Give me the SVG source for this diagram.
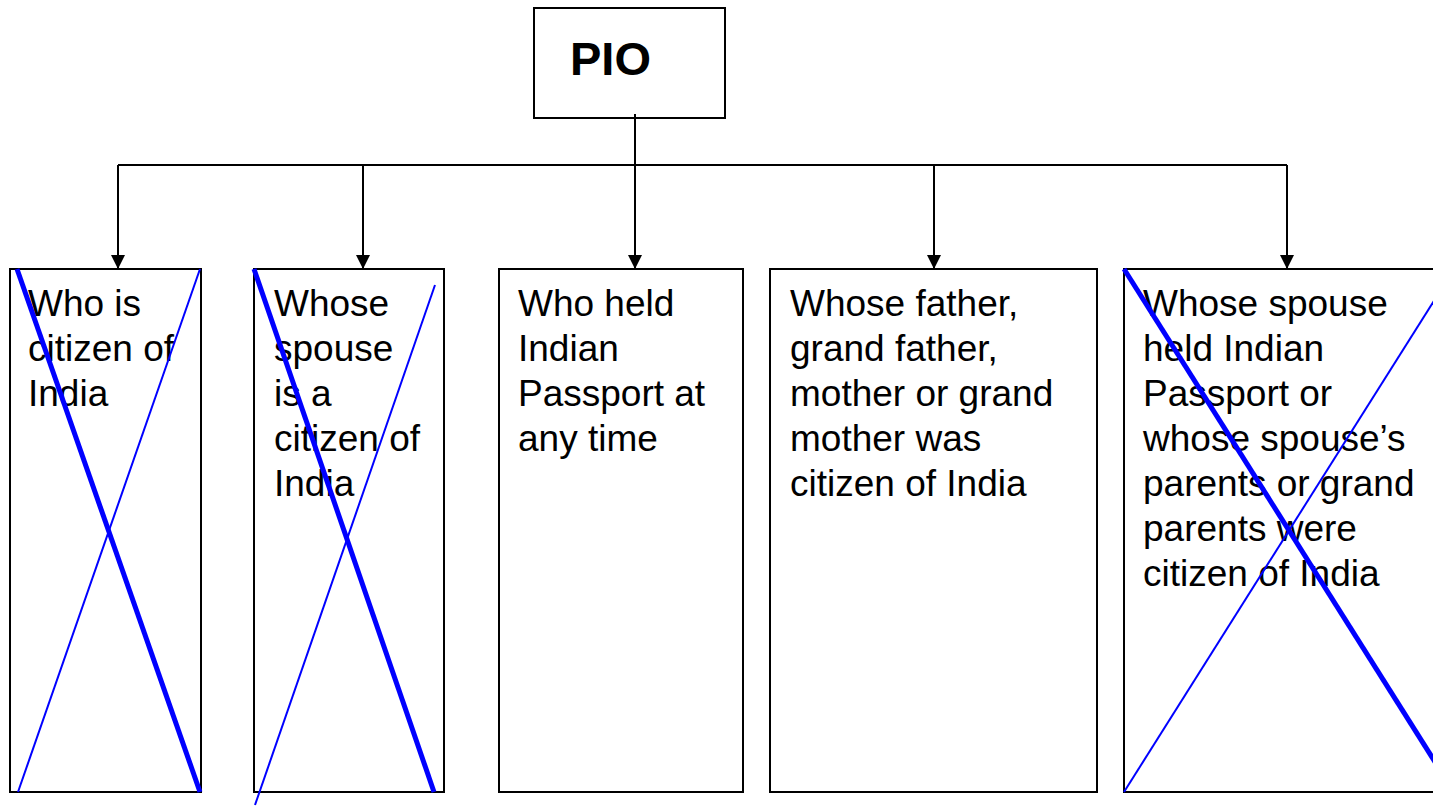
<svg xmlns="http://www.w3.org/2000/svg" width="1433" height="807" viewBox="0 0 1433 807">
<style>
.box{fill:#fff;stroke:#000;stroke-width:2}
.t{font-family:"Liberation Sans",Arial,sans-serif;font-size:37px;fill:#000}
.h{font-family:"Liberation Sans",Arial,sans-serif;font-size:47px;font-weight:bold;fill:#000}
.c{stroke:#000;stroke-width:2;fill:none}
.x1{stroke:#0000ff;stroke-width:5;fill:none}
.x2{stroke:#0000ff;stroke-width:2;fill:none}
</style>
<defs>
<marker id="ah" viewBox="0 0 10 10" refX="10" refY="5" markerWidth="7" markerHeight="7" orient="auto" markerUnits="strokeWidth">
<path d="M0,0 L10,5 L0,10 z" fill="#000"/>
</marker>
</defs>
<rect width="1433" height="807" fill="#fff"/>
<g id="pio">
<rect class="box" x="534" y="8" width="191" height="110"/>
<text class="h" x="570" y="75">PIO</text>
</g>
<g id="connectors">
<path class="c" d="M118,165 H1287"/>
<path class="c" d="M635,114 V269" marker-end="url(#ah)"/>
<path class="c" d="M118,165 V269" marker-end="url(#ah)"/>
<path class="c" d="M363,165 V269" marker-end="url(#ah)"/>
<path class="c" d="M934,165 V269" marker-end="url(#ah)"/>
<path class="c" d="M1287,165 V269" marker-end="url(#ah)"/>
</g>
<g id="n1">
<rect class="box" x="10" y="269" width="191" height="523"/>
<text class="t"><tspan x="28" y="316">Who is</tspan><tspan x="28" y="361">citizen of</tspan><tspan x="28" y="406">India</tspan></text>
<line class="x1" x1="17" y1="269" x2="200" y2="792"/>
<line class="x2" x1="18" y1="792" x2="200" y2="269"/>
</g>
<g id="n2">
<rect class="box" x="254" y="269" width="190" height="523"/>
<text class="t"><tspan x="274" y="316">Whose</tspan><tspan x="274" y="361">spouse</tspan><tspan x="274" y="406">is a</tspan><tspan x="274" y="451">citizen of</tspan><tspan x="274" y="496">India</tspan></text>
<line class="x1" x1="254" y1="269" x2="434" y2="792"/>
<line class="x2" x1="435" y1="285" x2="255" y2="805"/>
</g>
<g id="n3">
<rect class="box" x="499" y="269" width="244" height="523"/>
<text class="t"><tspan x="518" y="316">Who held</tspan><tspan x="518" y="361">Indian</tspan><tspan x="518" y="406">Passport at</tspan><tspan x="518" y="451">any time</tspan></text>
</g>
<g id="n4">
<rect class="box" x="770" y="269" width="327" height="523"/>
<text class="t"><tspan x="790" y="316">Whose father,</tspan><tspan x="790" y="361">grand father,</tspan><tspan x="790" y="406">mother or grand</tspan><tspan x="790" y="451">mother was</tspan><tspan x="790" y="496">citizen of India</tspan></text>
</g>
<g id="n5">
<rect class="box" x="1124" y="269" width="330" height="523"/>
<text class="t"><tspan x="1143" y="316">Whose spouse</tspan><tspan x="1143" y="361">held Indian</tspan><tspan x="1143" y="406">Passport or</tspan><tspan x="1143" y="451">whose spouse’s</tspan><tspan x="1143" y="496">parents or grand</tspan><tspan x="1143" y="541">parents were</tspan><tspan x="1143" y="586">citizen of India</tspan></text>
<line class="x1" x1="1124" y1="269" x2="1454" y2="792"/>
<line class="x2" x1="1124" y1="792" x2="1454" y2="269"/>
</g>
</svg>
